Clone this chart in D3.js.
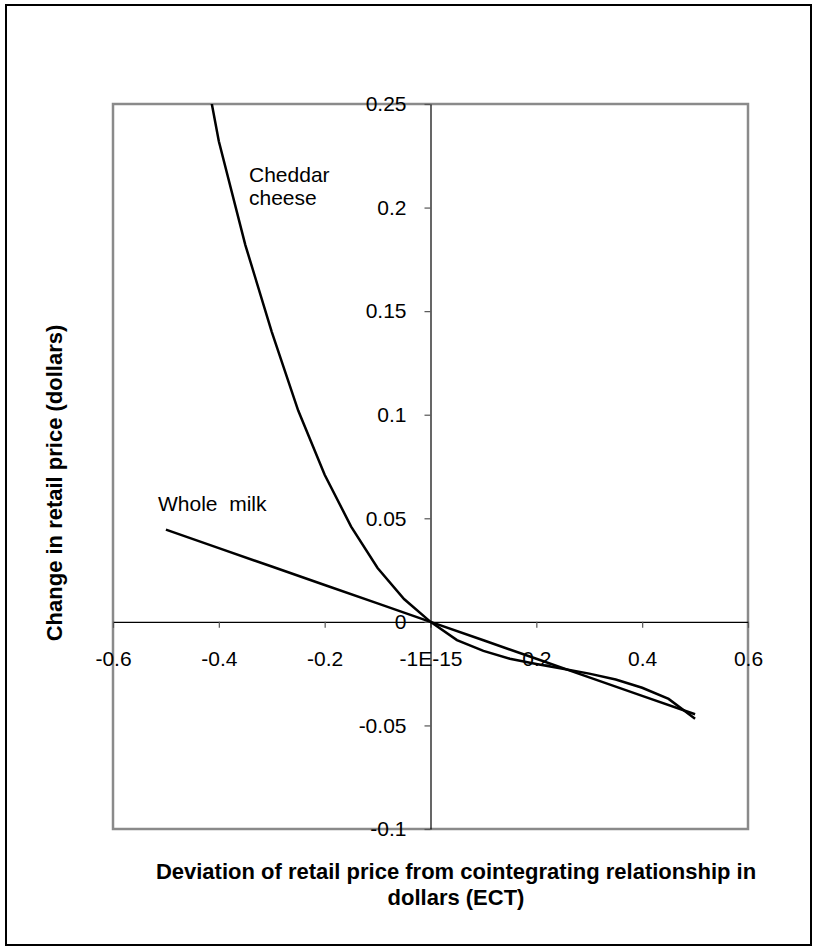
<!DOCTYPE html>
<html>
<head>
<meta charset="utf-8">
<script src="https://cdn.jsdelivr.net/npm/d3@7"></script>
<style>
  body { margin: 0; background: #fff; }
  text { font-family: "Liberation Sans", Arial, sans-serif; }
</style>
</head>
<body>
<script>
// data
const ectX = [-0.5, -0.45, -0.4, -0.35, -0.3, -0.25, -0.2, -0.15, -0.1, -0.05, 0,
              0.05, 0.1, 0.15, 0.2, 0.25, 0.3, 0.35, 0.4, 0.45, 0.5];
const cheese = [null, 0.300, 0.232, 0.182, 0.140, 0.102, 0.071, 0.046, 0.026, 0.011, 0,
                -0.0088, -0.0140, -0.0178, -0.0203, -0.0226, -0.0250, -0.0278, -0.0318, -0.0372, -0.0468];
const milkX = [-0.5, -0.4, -0.3, -0.2, -0.1, 0, 0.1, 0.2, 0.3, 0.4, 0.5];
const milk = [0.0445, 0.0356, 0.0267, 0.0178, 0.0089, 0, -0.0089, -0.0178, -0.0268, -0.0357, -0.0446];

const xTicks = [-0.6, -0.4, -0.2, 0, 0.2, 0.4, 0.6];
const xTickLabels = ["-0.6", "-0.4", "-0.2", "-1E-15", "0.2", "0.4", "0.6"];
const yTicks = [-0.1, -0.05, 0, 0.05, 0.1, 0.15, 0.2, 0.25];
const yTickLabels = ["-0.1", "-0.05", "0", "0.05", "0.1", "0.15", "0.2", "0.25"];

const width = 814;
const height = 947;
const plot = { left: 113, right: 748, top: 104, bottom: 829 };

const svg = d3.select("body").append("svg")
    .attr("width", width)
    .attr("height", height);

// outer frame
svg.append("rect")
    .attr("x", 6).attr("y", 5)
    .attr("width", 805).attr("height", 940)
    .attr("fill", "#fff")
    .attr("stroke", "#000")
    .attr("stroke-width", 2);

const x = d3.scaleLinear().domain([-0.6, 0.6]).range([plot.left, plot.right]);
const y = d3.scaleLinear().domain([-0.1, 0.25]).range([plot.bottom, plot.top]);

// plot area border
svg.append("rect")
    .attr("x", plot.left).attr("y", plot.top)
    .attr("width", plot.right - plot.left)
    .attr("height", plot.bottom - plot.top)
    .attr("fill", "none")
    .attr("stroke", "#8a8a8a")
    .attr("stroke-width", 2.5);

svg.append("clipPath").attr("id", "clip")
    .append("rect")
    .attr("x", plot.left).attr("y", plot.top)
    .attr("width", plot.right - plot.left)
    .attr("height", plot.bottom - plot.top);

// x axis through y = 0
const xAxis = svg.append("g")
    .attr("transform", `translate(0,${y(0)})`)
    .call(d3.axisBottom(x)
        .tickValues(xTicks)
        .tickFormat((d, i) => xTickLabels[i])
        .tickSize(6)
        .tickSizeOuter(0)
        .tickPadding(23));

// y axis through x = 0
const yAxis = svg.append("g")
    .attr("transform", `translate(${x(0)},0)`)
    .call(d3.axisLeft(y)
        .tickValues(yTicks)
        .tickFormat((d, i) => yTickLabels[i])
        .tickSize(6)
        .tickSizeOuter(0)
        .tickPadding(18));

[xAxis, yAxis].forEach(g => {
    g.select(".domain").attr("stroke", "#000").attr("stroke-width", 1.2);
    g.selectAll(".tick line").attr("stroke", "#555").attr("stroke-width", 1.2);
    g.selectAll(".tick text")
        .attr("fill", "#000")
        .style("font-size", "21px");
});

// the lines
const line = d3.line()
    .defined(d => d[1] !== null)
    .x(d => x(d[0]))
    .y(d => y(d[1]));

svg.append("path")
    .datum(ectX.map((v, i) => [v, cheese[i]]))
    .attr("clip-path", "url(#clip)")
    .attr("fill", "none")
    .attr("stroke", "#000")
    .attr("stroke-width", 2.5)
    .attr("d", line);

svg.append("path")
    .datum(milkX.map((v, i) => [v, milk[i]]))
    .attr("fill", "none")
    .attr("stroke", "#000")
    .attr("stroke-width", 2.5)
    .attr("d", line);

// series labels
svg.append("text")
    .attr("x", 249).attr("y", 182)
    .style("font-size", "21px")
    .text("Cheddar");
svg.append("text")
    .attr("x", 249).attr("y", 205)
    .style("font-size", "21px")
    .text("cheese");
svg.append("text")
    .attr("x", 158).attr("y", 511)
    .attr("xml:space", "preserve")
    .style("font-size", "21px")
    .style("white-space", "pre")
    .text("Whole  milk");

// axis titles
svg.append("text")
    .attr("transform", "translate(54,483) rotate(-90)")
    .attr("text-anchor", "middle")
    .attr("dy", "0.35em")
    .style("font-size", "22px")
    .style("font-weight", "bold")
    .text("Change in retail price (dollars)");

svg.append("text")
    .attr("x", 456).attr("y", 879)
    .attr("text-anchor", "middle")
    .style("font-size", "22px")
    .style("font-weight", "bold")
    .text("Deviation of retail price from cointegrating relationship in");
svg.append("text")
    .attr("x", 456).attr("y", 905)
    .attr("text-anchor", "middle")
    .style("font-size", "22px")
    .style("font-weight", "bold")
    .text("dollars (ECT)");
</script>
</body>
</html>
